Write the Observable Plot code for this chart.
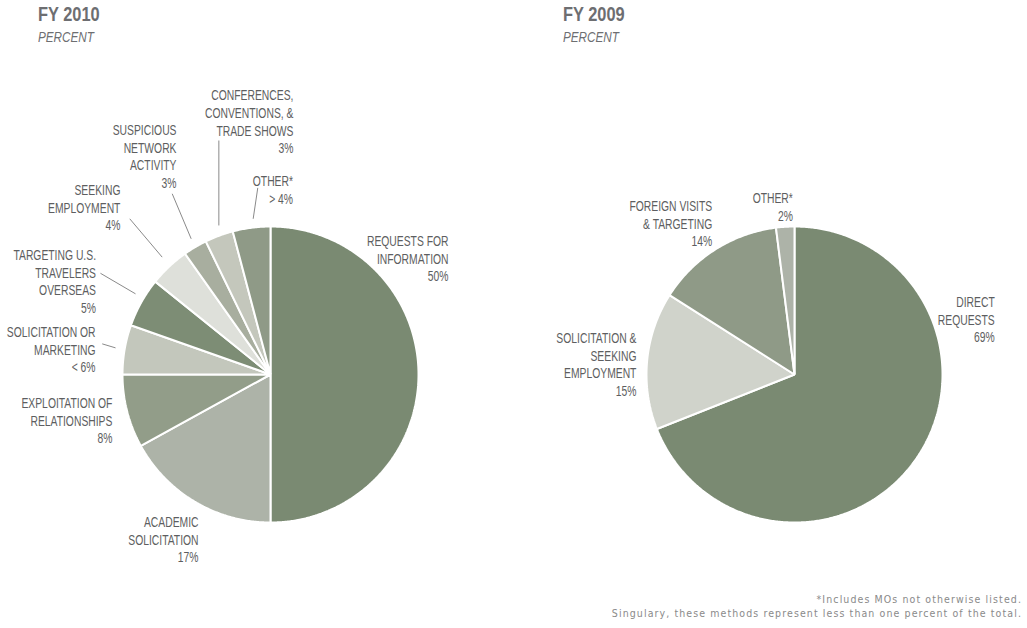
<!DOCTYPE html>
<html>
<head>
<meta charset="utf-8">
<script src="https://cdn.jsdelivr.net/npm/d3@7"></script>
<script src="https://cdn.jsdelivr.net/npm/@observablehq/plot@0.6"></script>
<style>
  html, body { margin: 0; padding: 0; background: #fff; }
  #root { position: relative; width: 1027px; height: 628px; overflow: hidden;
          font-family: "Liberation Sans", Arial, sans-serif; }
  .title { position: absolute; top: 3px; color: #6d6e71; font-weight: bold; font-size: 20.5px; line-height: 22px;
           transform: scaleX(0.8); transform-origin: 0 0; white-space: nowrap; }
  .sub { position: absolute; top: 28px; color: #6d6e71; font-style: italic; font-size: 15px; line-height: 18px;
         transform: scaleX(0.78); transform-origin: 0 0; white-space: nowrap; }
  .panel { position: absolute; top: 50px; }
  .note { position: absolute; right: 5px; top: 592px; text-align: right; color: #8a8a8a;
          font-family: "DejaVu Sans Condensed", "DejaVu Sans", sans-serif; font-stretch: condensed;
          font-size: 10.5px; line-height: 14px; letter-spacing: 1.1px; white-space: nowrap; }
</style>
</head>
<body>
<div id="root">
  <div class="title" style="left:38px">FY 2010</div>
  <div class="sub" style="left:38px">PERCENT</div>
  <div class="title" style="left:563px">FY 2009</div>
  <div class="sub" style="left:563px">PERCENT</div>
  <div class="panel" id="p2010" style="left:0px"></div>
  <div class="panel" id="p2009" style="left:524px"></div>
  <div class="note">*Includes MOs not otherwise listed.<br>Singulary, these methods represent less than one percent of the total.</div>
</div>
<script>
// ---------- FY 2010 data (clockwise from 12 o'clock) ----------
const fy2010Categories = [
  "REQUESTS FOR\nINFORMATION",
  "ACADEMIC\nSOLICITATION",
  "EXPLOITATION OF\nRELATIONSHIPS",
  "SOLICITATION OR\nMARKETING",
  "TARGETING U.S.\nTRAVELERS\nOVERSEAS",
  "SEEKING\nEMPLOYMENT",
  "SUSPICIOUS\nNETWORK\nACTIVITY",
  "CONFERENCES,\nCONVENTIONS, &\nTRADE SHOWS",
  "OTHER*"
];
const fy2010Values = [50, 17, 8, 5.4, 5.4, 4.4, 2.6, 3.1, 4.1];
const fy2010ValueLabels = ["50%", "17%", "8%", "< 6%", "5%", "4%", "3%", "3%", "> 4%"];

// ---------- FY 2009 data ----------
const fy2009Categories = [
  "DIRECT\nREQUESTS",
  "SOLICITATION &\nSEEKING\nEMPLOYMENT",
  "FOREIGN VISITS\n& TARGETING",
  "OTHER*"
];
const fy2009Values = [69, 15, 14, 2];
const fy2009ValueLabels = ["69%", "15%", "14%", "2%"];

// ---------- styles ----------
const fy2010Colors = ["#7a8a72", "#adb3a8", "#929d89", "#c3c7bc", "#7d8d75", "#dee0da", "#a8ae9f", "#c4c7bc", "#8f9a87"];
const fy2009Colors = ["#7a8a72", "#d0d3cb", "#8f9a87", "#adb3a8"];

// ---------- label layout (in pie-radius units, relative to the pie centre) ----------
const fy2010LabelPos = [
  [1.203, 0.953], [-0.486, -0.946], [-1.068, -0.142], [-1.182, 0.338], [-1.179, 0.858],
  [-1.014, 1.297], [-0.635, 1.703], [0.155, 1.936], [0.152, 1.355]
];
const fy2010Leaders = [
  [-1.137, 0.207, -1.047, 0.180],
  [-1.149, 0.684, -0.912, 0.545],
  [-0.951, 1.052, -0.732, 0.793],
  [-0.664, 1.221, -0.536, 0.917],
  [-0.349, 1.581, -0.349, 1.007],
  [-0.086, 1.261, -0.117, 1.052]
];
const fy2009LabelPos = [[1.353, 0.539], [-1.068, 0.297], [-0.556, 1.187], [-0.011, 1.243]];
const fy2009Leaders = [];

// ---------- geometry ----------
const W = 503, H = 530, R = 148, CX = 270, CY = 324;
const LABEL_SQUEEZE = 0.74;

function slicePoints(categories, values) {
  const arcs = d3.pie().sort(null).value(d => d)(values);
  const pts = [];
  arcs.forEach((a, i) => {
    const cat = categories[i];
    pts.push({cat, x: 0, y: 0});
    const steps = Math.max(2, Math.ceil((a.endAngle - a.startAngle) / (Math.PI / 360)));
    for (let k = 0; k <= steps; k++) {
      const t = a.startAngle + (a.endAngle - a.startAngle) * k / steps;
      pts.push({cat, x: Math.sin(t), y: Math.cos(t)});
    }
  });
  return pts;
}

function drawPie(categories, values, valueLabels, colors, labelPos, leaders) {
  const pts = slicePoints(categories, values);
  const labels = categories.map((c, i) => ({
    text: c + "\n" + valueLabels[i], x: labelPos[i][0], y: labelPos[i][1]
  }));
  const links = leaders.map(l => ({x1: l[0], y1: l[1], x2: l[2], y2: l[3]}));
  const svg = Plot.plot({
    width: W, height: H,
    margin: 0,
    x: {domain: [-CX / R, (W - CX) / R], axis: null},
    y: {domain: [-(H - CY) / R, CY / R], axis: null},
    color: {domain: categories, range: colors},
    style: {fontFamily: '"Liberation Sans", Arial, sans-serif', background: "white", overflow: "visible"},
    marks: [
      Plot.line(pts, {x: "x", y: "y", z: "cat", fill: "cat", stroke: "white", strokeWidth: 2,
                      curve: "linear-closed", strokeLinejoin: "miter"}),
      Plot.link(links, {x1: "x1", y1: "y1", x2: "x2", y2: "y2", stroke: "#8a8a8a", strokeWidth: 1}),
      Plot.text(labels, {x: "x", y: "y", text: "text", textAnchor: "end", lineAnchor: "top",
                         lineHeight: 1.257, fontSize: 14, fill: "#5d5e60"})
    ]
  });
  // condense the label glyphs horizontally around their (right-hand) anchor
  svg.querySelectorAll('g[aria-label="text"] text').forEach(t => {
    const tr = t.getAttribute("transform") || "";
    t.setAttribute("transform", tr + ` scale(${LABEL_SQUEEZE},1)`);
  });
  return svg;
}

document.getElementById("p2010").appendChild(
  drawPie(fy2010Categories, fy2010Values, fy2010ValueLabels, fy2010Colors, fy2010LabelPos, fy2010Leaders));
document.getElementById("p2009").appendChild(
  drawPie(fy2009Categories, fy2009Values, fy2009ValueLabels, fy2009Colors, fy2009LabelPos, fy2009Leaders));
</script>
</body>
</html>
